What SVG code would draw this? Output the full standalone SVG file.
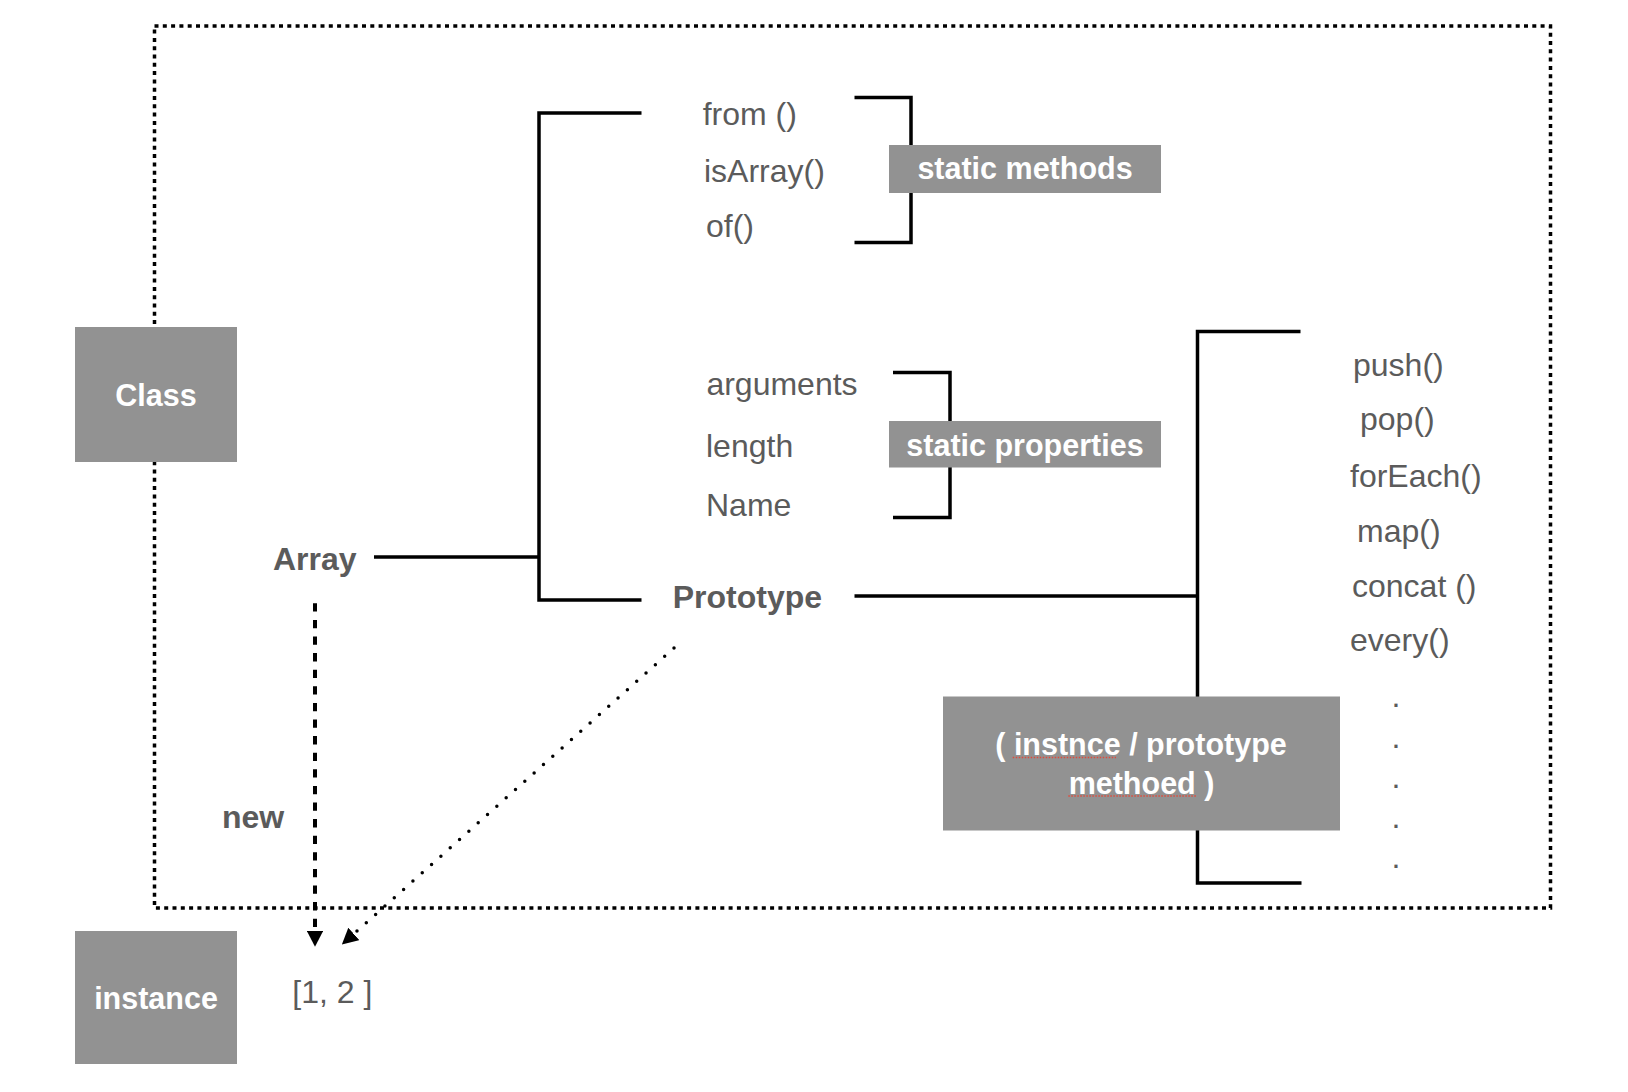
<svg xmlns="http://www.w3.org/2000/svg" width="1628" height="1092" viewBox="0 0 1628 1092">
  <defs>
    <style>
      .box { fill: #929292; }
      .boxtext { font-family: "Liberation Sans", Arial, sans-serif; font-weight: bold; font-size: 30.5px; fill: #ffffff; text-anchor: middle; }
      .label { font-family: "Liberation Sans", Arial, sans-serif; font-size: 32px; fill: #5b5b5b; }
      .bold { font-weight: bold; }
      .line { fill: none; stroke: #000000; stroke-width: 3.5; }
      .frame { fill: none; stroke: #000000; stroke-width: 3.5; stroke-dasharray: 4 4.3; }
      .dashed { fill: none; stroke: #000000; stroke-width: 4; stroke-dasharray: 8.3 8.3; }
      .dotted { fill: none; stroke: #000000; stroke-width: 3.5; stroke-linecap: round; stroke-dasharray: 0 12.5; }
      .spell { fill: none; stroke: #e24a3b; stroke-width: 1.5; stroke-dasharray: 1.5 1.5; }
    </style>
    <marker id="arrow" markerUnits="userSpaceOnUse" viewBox="0 0 16 16.5" markerWidth="16" markerHeight="16.5" refX="0" refY="8.25" orient="auto">
      <path d="M0,0 L16,8.25 L0,16.5 Z" fill="#000000"/>
    </marker>
  </defs>

  <rect width="1628" height="1092" fill="#ffffff"/>

  <!-- dotted class frame -->
  <rect id="class-frame" class="frame" x="154.5" y="26" width="1396" height="882"/>

  <g id="connectors">
    <!-- Array to bracket -->
    <path class="line" d="M374,557 H539"/>
    <path class="line" d="M641.5,113 H539 V600 H641.5"/>
    <!-- static methods bracket -->
    <path class="line" d="M854.5,97.5 H911 V242.5 H854.5"/>
    <!-- static properties bracket -->
    <path class="line" d="M893,372.5 H950 V517.5 H893"/>
    <!-- Prototype to right bracket -->
    <path class="line" d="M854.5,596 H1197.5"/>
    <path class="line" d="M1300.5,331.5 H1197.5 V883 H1301.5"/>
    <!-- new arrow -->
    <path class="dashed" d="M315,603.3 V930.7" marker-end="url(#arrow)"/>
    <!-- prototype link arrow -->
    <path class="dotted" d="M674,648 L353.8,933.9" marker-end="url(#arrow)"/>
  </g>

  <g id="class-node">
    <rect class="box" x="75" y="327" width="162" height="135"/>
    <text class="boxtext" x="156" y="406">Class</text>
  </g>

  <g id="instance-node">
    <rect class="box" x="75" y="931" width="162" height="133"/>
    <text class="boxtext" x="156" y="1009">instance</text>
  </g>

  <g id="array-node">
    <text class="label bold" x="273" y="570">Array</text>
  </g>

  <g id="new-label">
    <text class="label bold" x="222" y="827.5">new</text>
  </g>

  <g id="instance-value">
    <text class="label" x="292.3" y="1003">[1, 2 ]</text>
  </g>

  <g id="static-methods-list">
    <text class="label" x="702.7" y="125">from ()</text>
    <text class="label" x="704" y="181.5">isArray()</text>
    <text class="label" x="706" y="236.5">of()</text>
  </g>

  <g id="static-methods-node">
    <rect class="box" x="889" y="145" width="272" height="48"/>
    <text class="boxtext" x="1025" y="179">static methods</text>
  </g>

  <g id="static-properties-list">
    <text class="label" x="706.4" y="395">arguments</text>
    <text class="label" x="706" y="456.5">length</text>
    <text class="label" x="706" y="516">Name</text>
  </g>

  <g id="static-properties-node">
    <rect class="box" x="889" y="421" width="272" height="46.5"/>
    <text class="boxtext" x="1025" y="456">static properties</text>
  </g>

  <g id="prototype-node">
    <text class="label bold" x="672.7" y="608">Prototype</text>
  </g>

  <g id="prototype-methods-list">
    <text class="label" x="1353" y="376">push()</text>
    <text class="label" x="1360" y="430">pop()</text>
    <text class="label" x="1350" y="487">forEach()</text>
    <text class="label" x="1357" y="542">map()</text>
    <text class="label" x="1352" y="596.6">concat ()</text>
    <text class="label" x="1350" y="651.3">every()</text>
    <text class="label" x="1396" y="707.4" text-anchor="middle">.</text>
    <text class="label" x="1396" y="747.5" text-anchor="middle">.</text>
    <text class="label" x="1396" y="787.7" text-anchor="middle">.</text>
    <text class="label" x="1396" y="828.3" text-anchor="middle">.</text>
    <text class="label" x="1396" y="868.1" text-anchor="middle">.</text>
  </g>

  <g id="prototype-methods-node">
    <rect class="box" x="943" y="696.5" width="397" height="134"/>
    <text class="boxtext" x="1141" y="755">( instnce / prototype</text>
    <text class="boxtext" x="1141.5" y="793.5">methoed )</text>
    <path class="spell" d="M1012.7,757.5 H1116 M1068.3,796 H1196.7"/>
  </g>
</svg>
